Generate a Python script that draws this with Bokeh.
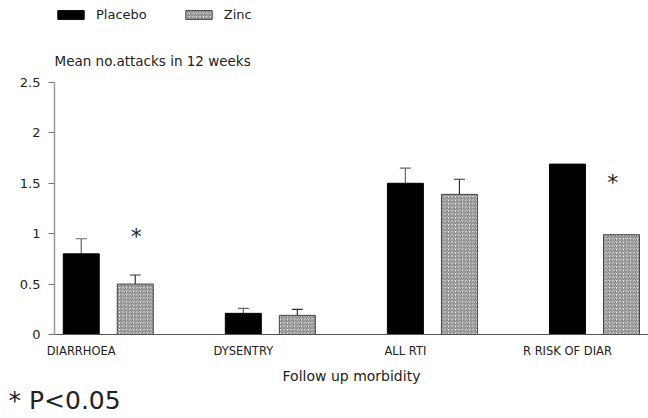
from bokeh.plotting import figure
from bokeh.models import (ColumnDataSource, Whisker, TeeHead, Label, Legend, LegendItem,
                          FixedTicker, Title)
from bokeh.core.properties import value
from bokeh.embed import file_html
from bokeh.resources import INLINE

# ---- data ----
categories = ["DIARRHOEA", "DYSENTRY", "ALL RTI", "R RISK OF DIAR"]
placebo = [0.80, 0.21, 1.50, 1.69]
zinc = [0.50, 0.19, 1.39, 0.99]
placebo_err = [0.15, 0.05, 0.15, 0.0]
zinc_err = [0.09, 0.06, 0.15, 0.0]
sig_x = [0.34, 3.28]
sig_y = [0.97, 1.51]
y_ticks = [0, 0.5, 1, 1.5, 2, 2.5]
y_tick_labels = ["0", "0.5", "1", "1.5", "2", "2.5"]

FONT = "DejaVu Sans"
offset = 1 / 3
bw = 0.222
Y_MAX = 2.5
Y_TOP = 3.313  # headroom inside frame for the legend and title text

xp = list(range(len(categories)))
xz = [i + offset for i in xp]

p = figure(width=648, height=418, output_backend="svg", toolbar_location=None,
           title=None,
           x_range=(-0.165, 3.5), y_range=(0, Y_TOP),
           min_border_left=54, min_border_right=0, min_border_top=0, min_border_bottom=84)
p.outline_line_color = None
p.grid.visible = False

src_p = ColumnDataSource(dict(x=xp, top=placebo))
src_z = ColumnDataSource(dict(x=xz, top=zinc))
rp = p.vbar(x="x", top="top", width=bw, source=src_p, fill_color="black", line_color="black")
rz = p.vbar(x="x", top="top", width=bw, source=src_z, fill_color="#f2f2f2",
            line_color="#444444", line_width=1,
            hatch_pattern="/", hatch_scale=3.5, hatch_weight=1, hatch_color="#666666")

# error bars
def whisk(xs, vals, errs, color):
    ks = [i for i, e in enumerate(errs) if e > 0]
    s = ColumnDataSource(dict(base=[xs[i] for i in ks],
                              upper=[vals[i] + errs[i] for i in ks],
                              lower=[vals[i] - errs[i] for i in ks]))
    w = Whisker(base="base", upper="upper", lower="lower", source=s, dimension="height",
                line_color=color, line_width=1.2,
                upper_head=TeeHead(size=11, line_color=color, line_width=1.2),
                lower_head=None)
    p.add_layout(w)

whisk(xp, placebo, placebo_err, "#666666")
whisk(xz, zinc, zinc_err, "#333333")

# significance asterisks
p.text(x=sig_x, y=sig_y, text=["*"] * len(sig_x),
       text_align="center", text_baseline="middle", text_font=value(FONT),
       text_font_size="22px", text_color="#222222")

# axes
p.xaxis.ticker = FixedTicker(ticks=xp)
p.xaxis.major_label_overrides = {i: c for i, c in enumerate(categories)}
p.xaxis.major_tick_line_color = None
p.xaxis.minor_tick_line_color = None
p.xaxis.axis_line_color = "#555555"
p.xaxis.axis_line_width = 1.2
p.xaxis.major_label_text_font = FONT
p.xaxis.major_label_text_font_size = "11.5px"
p.xaxis.major_label_text_color = "#222222"
p.xaxis.major_label_standoff = 3
p.xaxis.axis_label = "Follow up morbidity"
p.xaxis.axis_label_text_font = FONT
p.xaxis.axis_label_text_font_size = "14px"
p.xaxis.axis_label_text_font_style = "normal"
p.xaxis.axis_label_text_color = "#222222"
p.xaxis.axis_label_standoff = 7

p.yaxis.ticker = FixedTicker(ticks=y_ticks)
p.yaxis.bounds = (0, Y_MAX)
p.yaxis.major_label_overrides = {t: l for t, l in zip(y_ticks, y_tick_labels)}
p.yaxis.major_tick_out = 6
p.yaxis.major_tick_in = 0
p.yaxis.minor_tick_line_color = None
p.yaxis.major_tick_line_color = "#777777"
p.yaxis.axis_line_color = "#999999"
p.yaxis.axis_line_width = 1.5
p.yaxis.major_label_text_font = FONT
p.yaxis.major_label_text_font_size = "13px"
p.yaxis.major_label_text_color = "#222222"
p.yaxis.major_label_standoff = 8

# title text (inside the frame headroom)
p.add_layout(Label(x=-0.165, y=2.71, text="Mean no.attacks in 12 weeks",
                   text_font=FONT, text_font_size="13.5px", text_color="#222222",
                   text_baseline="alphabetic"))

# footnote below the x axis
p.add_layout(Title(text="* P<0.05", align="left", offset=-46, standoff=-5,
                   text_font=FONT, text_font_size="25px", text_font_style="normal",
                   text_color="#222222"), "below")

legend = Legend(items=[LegendItem(label="Placebo", renderers=[rp]),
                       LegendItem(label="Zinc", renderers=[rz])],
                location=(0, 312), orientation="horizontal",
                glyph_width=33, glyph_height=11, label_standoff=9, spacing=35,
                padding=0, margin=0, border_line_color=None, background_fill_alpha=0,
                label_text_font=FONT, label_text_font_size="13px",
                label_text_color="#222222", label_height=11)
p.add_layout(legend, "center")

open("out.html", "w").write(file_html(p, INLINE))
